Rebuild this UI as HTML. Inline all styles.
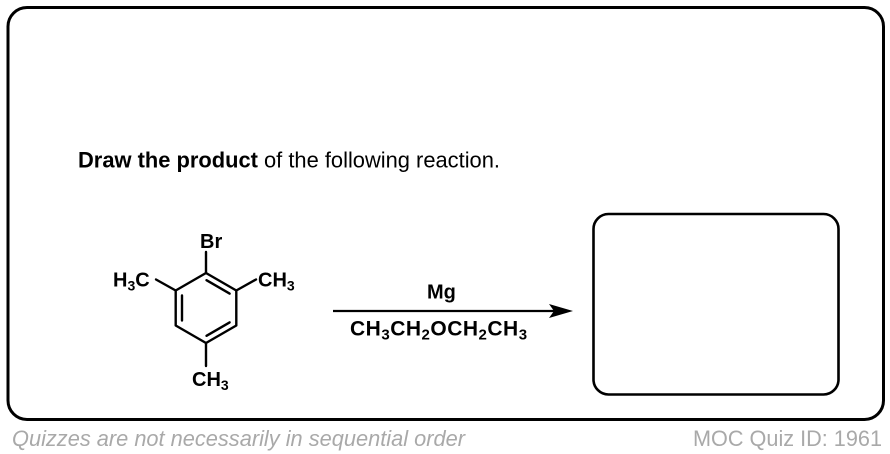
<!DOCTYPE html>
<html>
<head>
<meta charset="utf-8">
<style>
  html, body { margin: 0; padding: 0; background: #ffffff; }
  body { width: 890px; height: 454px; overflow: hidden; }
  svg { display: block; }
  text { font-family: "Liberation Sans", Arial, sans-serif; }
</style>
</head>
<body>
<svg width="890" height="454" viewBox="0 0 890 454" xmlns="http://www.w3.org/2000/svg">
  <rect x="0" y="0" width="890" height="454" fill="#ffffff"/>
  <!-- outer box -->
  <rect x="8" y="7.5" width="875.5" height="412" rx="19" ry="19" fill="none" stroke="#000" stroke-width="3"/>

  <!-- prompt -->
  <text x="78" y="167.5" font-size="21.8" fill="#000" textLength="422" lengthAdjust="spacingAndGlyphs"><tspan font-weight="bold">Draw the product</tspan> of the following reaction.</text>

  <!-- molecule -->
  <g stroke="#000" stroke-width="2.4" stroke-linecap="round" stroke-linejoin="round" fill="none">
    <polygon points="206,273 236.3,290.5 236.3,325.5 206,343 175.7,325.5 175.7,290.5"/>
    <line x1="206.5" y1="280.2" x2="229.6" y2="293.6"/>
    <line x1="182" y1="295.5" x2="182" y2="320.5"/>
    <line x1="229.6" y1="322.4" x2="206.5" y2="335.8"/>
    <line x1="206" y1="273" x2="206" y2="252"/>
    <line x1="236.3" y1="290.5" x2="256" y2="279.5"/>
    <line x1="175.7" y1="290.5" x2="156" y2="279.5"/>
    <line x1="206" y1="343" x2="206" y2="366"/>
  </g>
  <g font-weight="bold" font-size="20" fill="#000">
    <text x="200" y="248">Br</text>
    <text x="258" y="286.5">CH<tspan font-size="14" dy="4">3</tspan></text>
    <text x="113" y="286.5">H<tspan font-size="14" dy="4">3</tspan><tspan dy="-4">C</tspan></text>
    <text x="192" y="386">CH<tspan font-size="14" dy="4">3</tspan></text>
  </g>

  <!-- arrow -->
  <line x1="333" y1="311" x2="556" y2="311" stroke="#000" stroke-width="2.2"/>
  <polygon points="573,311 549,304 554,311 549,318" fill="#000"/>
  <text x="427" y="298.5" font-size="20" font-weight="bold" fill="#000">Mg</text>
  <text x="350" y="335.5" font-size="21" font-weight="bold" fill="#000" letter-spacing="0.5">CH<tspan font-size="15" dy="4">3</tspan><tspan dy="-4">CH</tspan><tspan font-size="15" dy="4">2</tspan><tspan dy="-4">OCH</tspan><tspan font-size="15" dy="4">2</tspan><tspan dy="-4">CH</tspan><tspan font-size="15" dy="4">3</tspan></text>

  <!-- answer box -->
  <rect x="593.5" y="214" width="245" height="180.5" rx="15" ry="15" fill="none" stroke="#000" stroke-width="2.6"/>

  <!-- footer -->
  <text x="12" y="446" font-size="22" font-style="italic" fill="#a9a9a9" textLength="453" lengthAdjust="spacingAndGlyphs">Quizzes are not necessarily in sequential order</text>
  <text x="693" y="446" font-size="22" fill="#a9a9a9" textLength="189" lengthAdjust="spacingAndGlyphs">MOC Quiz ID: 1961</text>
</svg>
</body>
</html>
